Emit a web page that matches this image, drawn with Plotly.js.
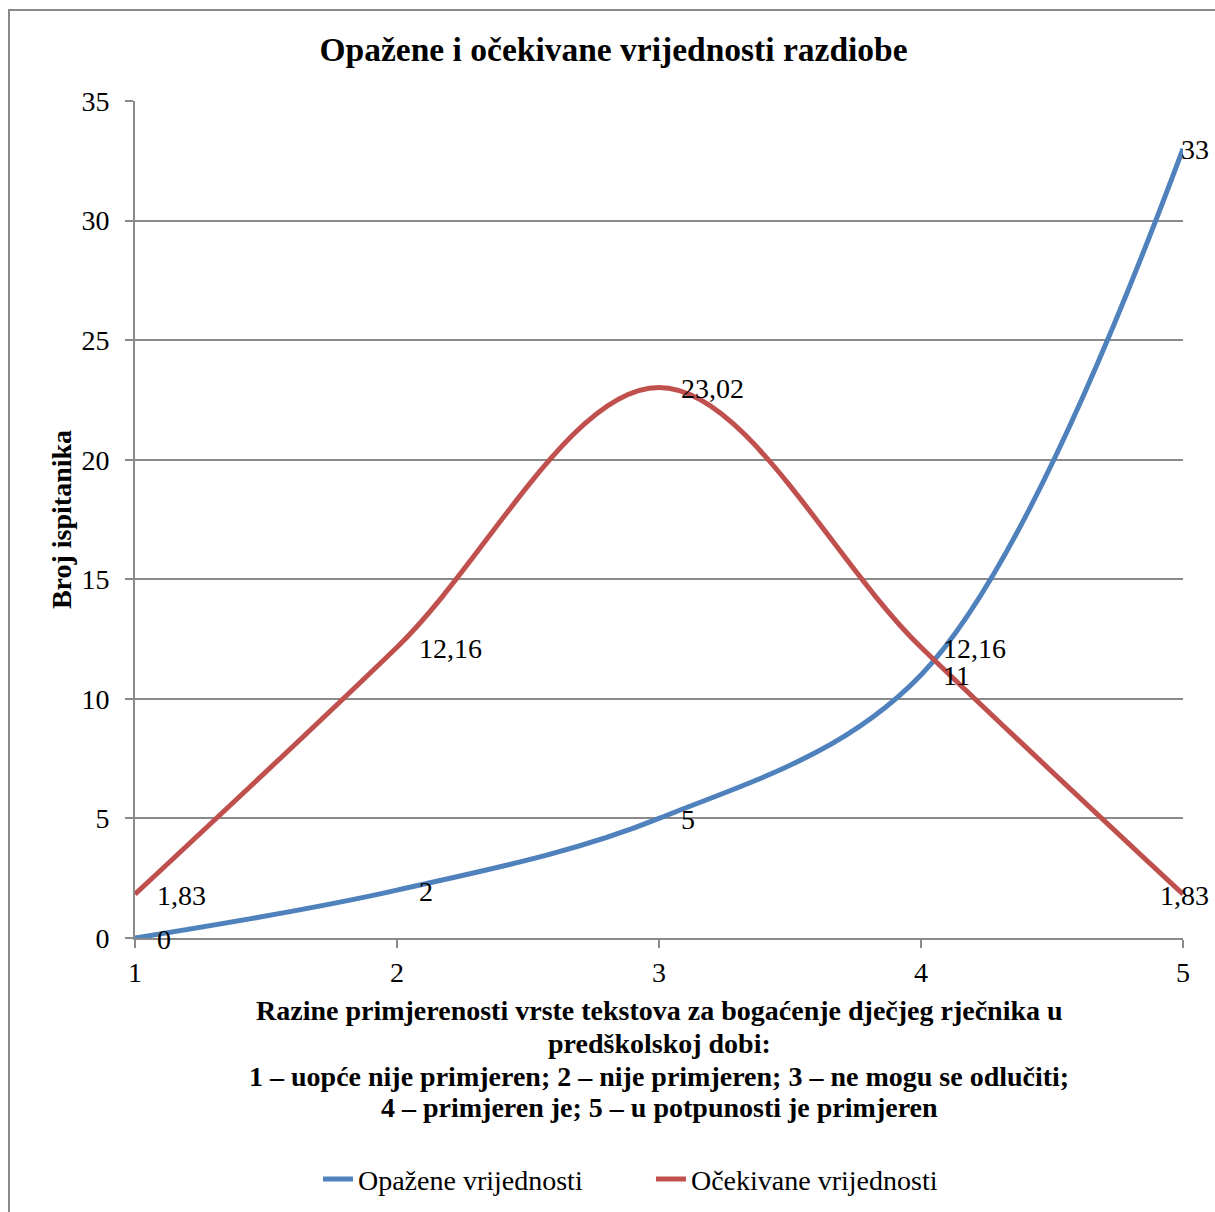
<!DOCTYPE html>
<html>
<head>
<meta charset="utf-8">
<script src="https://cdn.plot.ly/plotly-3.0.1.min.js"></script>
<style>
  html, body { margin:0; padding:0; background:#fff; }
  #frame { position:absolute; left:8px; top:9px; width:1300px; height:1300px; border:2px solid #8a8a8a; box-sizing:border-box; pointer-events:none; z-index:5; }
  #chart { position:absolute; left:0; top:0; width:1215px; height:1212px; }
</style>
</head>
<body>
<div id="chart"></div>
<div id="frame"></div>
<script>
const categories = [1, 2, 3, 4, 5];
const observed = [0, 2, 5, 11, 33];
const expected = [1.83, 12.16, 23.02, 12.16, 1.83];
const seriesNames = ["Opažene vrijednosti", "Očekivane vrijednosti"];
const yTicks = [0, 5, 10, 15, 20, 25, 30, 35];
const chartTitle = "Opažene i očekivane vrijednosti razdiobe";
const yTitle = "Broj ispitanika";
const xTitleLines = [
  "Razine primjerenosti vrste tekstova za bogaćenje dječjeg rječnika u",
  "predškolskoj dobi:",
  "1 – uopće nije primjeren; 2 – nije primjeren; 3 – ne mogu se odlučiti;",
  "4 – primjeren je; 5 – u potpunosti je primjeren"
];

const FONT = "Liberation Serif";
const BLUE = "#4F81BD", RED = "#C0504D", GRID = "#8a8a8a";
const FS = 28;

function fmt(v) { return String(v).replace(".", ","); }

const traces = [
  { x: categories, y: observed, name: seriesNames[0], mode: "lines",
    line: { color: BLUE, width: 5, shape: "spline", smoothing: 1 }, hoverinfo: "none" },
  { x: categories, y: expected, name: seriesNames[1], mode: "lines",
    line: { color: RED, width: 5, shape: "spline", smoothing: 1 }, hoverinfo: "none" }
];

const annotations = [];
[observed, expected].forEach(series => {
  series.forEach((v, i) => {
    const last = i === categories.length - 1;
    annotations.push({
      x: categories[i], y: v, xref: "x", yref: "y",
      text: fmt(v), showarrow: false,
      xanchor: last ? "right" : "left", yanchor: "middle",
      xshift: last ? 28 : 20, yshift: -1,
      font: { family: FONT, size: FS, color: "#000" }
    });
  });
});
const xTitleOffsets = [-72, -105, -138, -169];
xTitleLines.forEach((t, i) => {
  annotations.push({
    x: 0.5, y: 0, xref: "paper", yref: "paper",
    text: "<b>" + t + "</b>", showarrow: false,
    xanchor: "center", yanchor: "middle", yshift: xTitleOffsets[i],
    font: { family: FONT, size: FS, color: "#000" }
  });
});

const layout = {
  width: 1215, height: 1212,
  paper_bgcolor: "#fff", plot_bgcolor: "#fff",
  margin: { l: 135, r: 32, t: 101, b: 274 },
  font: { family: FONT, size: FS, color: "#000" },
  title: { text: "<b>" + chartTitle + "</b>",
           font: { family: FONT, size: 33.5, color: "#000" },
           x: 0.505, xref: "container", y: 0.959, yref: "container", yanchor: "middle" },
  xaxis: {
    range: [1, 5], tickvals: categories, ticktext: categories.map(String),
    showgrid: false, zeroline: false, showline: true, linecolor: GRID, linewidth: 2,
    ticks: "outside", ticklen: 8, tickcolor: GRID, tickwidth: 2,
    tickfont: { family: FONT, size: FS, color: "#000" }
  },
  yaxis: {
    range: [0, 35], tickvals: yTicks,
    showgrid: true, gridcolor: GRID, gridwidth: 2, zeroline: false,
    showline: true, linecolor: GRID, linewidth: 2,
    ticks: "outside", ticklen: 8, tickcolor: GRID, tickwidth: 2,
    ticklabelstandoff: 10,
    tickfont: { family: FONT, size: FS, color: "#000" },
    title: { text: "<b>" + yTitle + "</b>", font: { family: FONT, size: FS, color: "#000" }, standoff: 2 }
  },
  showlegend: true,
  legend: { orientation: "h", x: 0.2617, xref: "container", xanchor: "left",
            y: 0.027, yref: "container", yanchor: "middle",
            font: { family: FONT, size: FS, color: "#000" },
            entrywidth: 288, entrywidthmode: "pixels",
            bgcolor: "rgba(0,0,0,0)" },
  annotations: annotations
};

Plotly.newPlot("chart", traces, layout, { displayModeBar: false, staticPlot: true });
</script>
</body>
</html>
